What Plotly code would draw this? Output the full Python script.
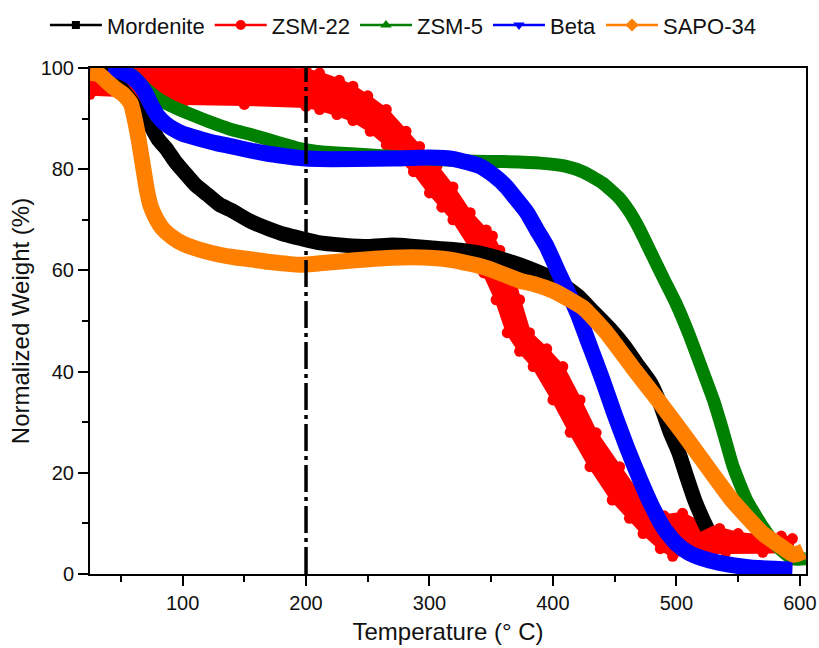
import plotly.graph_objects as go

# ---------------- TGA data: temperature (°C) vs normalized weight (%) ----------------
mordenite_t = [25, 35, 45, 55, 65, 73, 80, 87, 94, 101, 110, 120, 130, 140, 155, 170, 183, 196, 210, 230,
               250, 270, 285, 300, 325, 345, 362, 380, 403, 420, 432, 446, 458, 468, 479, 487, 495, 502, 508, 515,
               522, 525]
mordenite_w = [99.5, 99, 97.5, 94.5, 91.5, 89, 86, 84, 81.5, 79.5, 77, 75, 73, 71.8, 69.7, 68.2, 67.1, 66.3, 65.5, 65,
               64.7, 65, 64.8, 64.5, 64, 63.2, 62, 60.5, 58, 55, 52, 48.5, 45, 41.5, 37.8, 33.5, 28, 24, 19.5, 14.5,
               10.5, 9]

# ZSM-22 is a very noisy trace: kept as the upper and lower envelope of the band
zsm22_upper_t = [25, 60, 100, 150, 200, 211, 227, 238, 250, 265, 281, 292, 306, 319, 333, 346, 351, 357, 368, 373,
                 381, 395, 408, 422, 435, 454, 473, 490, 505, 520, 535, 550, 570, 585, 594]
zsm22_upper_w = [99.8, 100, 100, 100, 99.6, 99, 97.6, 96.4, 94.5, 91.8, 87.5, 84.5, 80.6, 76.5, 71.4, 68, 66.8, 64,
                 58.8, 54.2, 47.7, 44.5, 41, 34.4, 27.9, 21.2, 14.6, 11.5, 12, 10, 9, 8, 7.5, 7.5, 7]
zsm22_lower_t = [25, 55, 62, 100, 150, 200, 211, 225, 238, 252, 265, 276, 287, 300, 310, 319, 333, 344, 354, 363,
                 373, 384, 400, 414, 430, 448, 462, 473, 487, 497, 510, 540, 570, 594]
zsm22_lower_w = [94.8, 94.5, 93, 93, 92.8, 92.4, 91.8, 90.8, 89.6, 87.5, 84.8, 82, 79.5, 75.3, 72.5, 70, 64.7, 59.5,
                 54.2, 47.7, 44, 41, 34.4, 28, 21.2, 14.6, 11, 8, 5, 3.5, 4.2, 4.3, 4.3, 4.5]

zsm5_t = [45, 50, 60, 70, 80, 90, 101, 115, 128, 140, 156, 170, 183, 196, 209, 225, 240, 270, 300, 330,
          360, 390, 410, 425, 440, 453, 462, 470, 480, 490, 500, 510, 520, 530, 538, 546, 557, 570, 582, 594, 605]
zsm5_w = [100, 99.6, 98.5, 96, 94, 92.6, 91.4, 90, 88.8, 87.8, 86.8, 85.8, 84.9, 84, 83.5, 83.2, 83, 82.5, 82, 81.6,
          81.5, 81.2, 80.6, 79.4, 77.3, 74.5, 71.6, 68.2, 63.2, 58.2, 53.3, 47.5, 41, 34.4, 28, 21.2, 14.6, 9.3, 5.4,
          3, 3]

beta_t = [40, 50, 59, 65, 70, 75, 80, 86, 92, 100, 114, 128, 140, 155, 168, 182, 195, 210, 240, 270,
          300, 320, 341, 352, 362, 370, 379, 387, 395, 406, 415, 420, 430, 440, 450, 460, 470, 480, 490, 500,
          510, 520, 535, 560, 594]
beta_w = [100, 99.3, 98.2, 96.8, 95, 92.5, 90.5, 89, 88, 87, 86, 85.1, 84.5, 83.7, 83.1, 82.6, 82.2, 82, 82, 82.1,
          82.3, 82, 80.6, 78.8, 76.6, 74.2, 71.4, 68, 64.7, 58.8, 54.2, 51.5, 45, 38.5, 31.5, 25, 19, 13.5, 9, 6,
          4.2, 3.2, 2.2, 1.3, 0.9]

sapo34_t = [25, 32, 38, 45, 52, 58, 62, 65, 68, 71, 74, 78, 84, 92, 100, 115, 130, 142, 155, 169,
            185, 196, 211, 240, 270, 300, 320, 346, 373, 386, 400, 413, 425, 443, 464, 485, 505, 525, 545, 570,
            585, 595, 603]
sapo34_w = [99, 98.8, 97.5, 96, 94.8, 93, 89, 85, 80.5, 76, 72.8, 70.5, 68.2, 66.5, 65.3, 64, 63.1, 62.6, 62.2, 61.7,
            61.3, 61.1, 61.4, 62, 62.5, 62.5, 62, 60.5, 58, 57.2, 56, 54.3, 52.5, 47.8, 41, 34.4, 27.9, 21.2, 14.6, 8,
            5.4, 3.8, 4.5]

series_names = ["Mordenite", "ZSM-22", "ZSM-5", "Beta", "SAPO-34"]
series_colors = ["#000000", "#FF0000", "#008000", "#0000FF", "#FF8000"]
series_symbols = ["square", "circle", "triangle-up", "triangle-down", "diamond"]

marked_temperature = 200
x_ticks = [100, 200, 300, 400, 500, 600]
y_ticks = [0, 20, 40, 60, 80, 100]

FONT = "Liberation Sans, Arial, sans-serif"

fig = go.Figure()

# ZSM-22 band (drawn first, underneath the other curves); round markers on the
# envelope give the band its beaded edge
fig.add_trace(go.Scatter(
    x=zsm22_upper_t + zsm22_lower_t[::-1],
    y=zsm22_upper_w + zsm22_lower_w[::-1],
    mode="lines+markers", fill="toself", fillcolor=series_colors[1],
    line=dict(color=series_colors[1], width=3),
    marker=dict(symbol="circle", size=11, color=series_colors[1]),
    showlegend=False, hoverinfo="skip", cliponaxis=True,
))


def add_curve(t, w, color, width=16):
    fig.add_trace(go.Scatter(
        x=t, y=w, mode="lines",
        line=dict(color=color, width=width, shape="spline", smoothing=0.5),
        showlegend=False, hoverinfo="skip",
    ))


add_curve(mordenite_t, mordenite_w, series_colors[0], 15)
add_curve(zsm5_t, zsm5_w, series_colors[2], 13)
add_curve(beta_t, beta_w, series_colors[3], 16)
add_curve(sapo34_t, sapo34_w, series_colors[4], 16)

# legend entries (line + symbol)
for name, color, symbol in zip(series_names, series_colors, series_symbols):
    fig.add_trace(go.Scatter(
        x=[None], y=[None], mode="lines+markers", name=name,
        line=dict(color=color, width=2.5),
        marker=dict(symbol=symbol, size=10 if symbol != "square" else 8, color=color),
    ))

# dash-dot marker line at 200 °C
fig.add_shape(type="line", xref="x", yref="y",
              x0=marked_temperature, x1=marked_temperature, y0=0, y1=100,
              line=dict(color="black", width=3.5, dash="27px,5px,4px,5px"), layer="above")

axis_common = dict(
    showline=True, linewidth=2, linecolor="black", mirror=True,
    ticks="outside", ticklen=10, tickwidth=2, tickcolor="black",
    showgrid=False, zeroline=False, automargin=False,
    tickfont=dict(size=20, color="#111111", family=FONT),
)

fig.update_xaxes(
    range=[25, 605], tickvals=x_ticks,
    minor=dict(dtick=50, tick0=0, ticks="outside", ticklen=6, tickwidth=2, tickcolor="black", showgrid=False),
    title=dict(text="Temperature (° C)", font=dict(size=24, color="#111111", family=FONT), standoff=10),
    **axis_common,
)
fig.update_yaxes(
    range=[0, 100], tickvals=y_ticks,
    minor=dict(dtick=10, tick0=0, ticks="outside", ticklen=6, tickwidth=2, tickcolor="black", showgrid=False),
    title=dict(text="Normalized Weight (%)", font=dict(size=24, color="#111111", family=FONT), standoff=4),
    **axis_common,
)

fig.update_layout(
    width=819, height=648,
    margin=dict(l=90, r=13, t=68, b=74, autoexpand=False),
    plot_bgcolor="white", paper_bgcolor="white",
    font=dict(family=FONT, size=20, color="#111111"),
    legend=dict(orientation="h", x=-0.063, xanchor="left", y=1.126, yanchor="top",
                font=dict(size=22, color="#111111", family=FONT), itemwidth=52,
                bgcolor="rgba(0,0,0,0)", traceorder="normal"),
)

fig.write_html("out.html")
